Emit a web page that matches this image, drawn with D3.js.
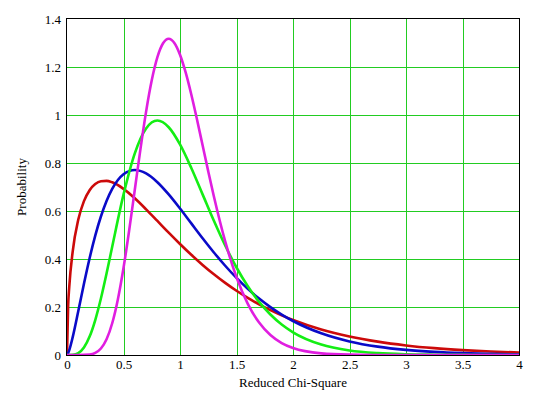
<!DOCTYPE html>
<html>
<head>
<meta charset="utf-8">
<script src="https://cdnjs.cloudflare.com/ajax/libs/d3/7.8.5/d3.min.js"></script>
<style>
  body { margin: 0; background: #fff; }
</style>
</head>
<body>
<div id="chart"></div>
<script>
// sample points along the reduced chi-square axis
var xs = [0, 0.01, 0.02, 0.05, 0.1, 0.15, 0.2, 0.25, 0.3, 0.35, 0.4, 0.5, 0.6, 0.7, 0.8, 0.9, 1.0,
          1.1, 1.2, 1.3, 1.4, 1.5, 1.6, 1.7, 1.8, 1.9, 2.0, 2.25, 2.5, 2.75, 3.0, 3.25, 3.5, 3.75, 4.0];

var redVals = [0, 0.2042, 0.2845, 0.4300, 0.5642, 0.6411, 0.6868, 0.7124, 0.7240, 0.7255, 0.7195,
               0.6924, 0.6529, 0.6069, 0.5585, 0.5098, 0.4626, 0.4175, 0.3754, 0.3363, 0.3004,
               0.2676, 0.2379, 0.2110, 0.1869, 0.1653, 0.1460, 0.1064, 0.0771, 0.0556, 0.0399,
               0.0285, 0.0204, 0.0145, 0.0103];

var blueVals = [0, 0.0073, 0.0200, 0.0733, 0.1831, 0.2968, 0.4033, 0.4974, 0.5770, 0.6416, 0.6918,
                0.7530, 0.7709, 0.7565, 0.7199, 0.6690, 0.6102, 0.5483, 0.4865, 0.4272, 0.3719,
                0.3212, 0.2756, 0.2350, 0.1994, 0.1684, 0.1417, 0.0905, 0.0567, 0.0350, 0.0214,
                0.0129, 0.0077, 0.0046, 0.0027];

var greenVals = [0, 0, 0, 0.0006, 0.0079, 0.0311, 0.0766, 0.1457, 0.2353, 0.3395, 0.4511,
                 0.6680, 0.8402, 0.9440, 0.9768, 0.9490, 0.8773, 0.7791, 0.6693, 0.5591, 0.4561,
                 0.3646, 0.2863, 0.2213, 0.1687, 0.1270, 0.0946, 0.0434, 0.0190, 0.0080, 0.0032,
                 0.0013, 0.0005, 0.0002, 0.0001];

// the narrow magenta peak gets its own, finer sampling
var xsMag = [0, 0.1, 0.2, 0.25, 0.3, 0.35, 0.4, 0.45, 0.5, 0.55, 0.6, 0.65, 0.7, 0.75, 0.8, 0.85,
             0.9, 0.95, 1.0, 1.05, 1.1, 1.15, 1.2, 1.25, 1.3, 1.4, 1.5, 1.6, 1.7, 1.8, 1.9, 2.0,
             2.25, 2.5, 2.75, 3.0, 3.5, 4.0];

var magentaVals = [0, 0, 0.0019, 0.0086, 0.0270, 0.0656, 0.1323, 0.2316, 0.3626, 0.5186, 0.6884,
                   0.8581, 1.0141, 1.1444, 1.2408, 1.2987, 1.3176, 1.3000, 1.2511, 1.1772, 1.0853,
                   0.9820, 0.8736, 0.7652, 0.6605, 0.4734, 0.3241, 0.2131, 0.1353, 0.0833, 0.0498,
                   0.0291, 0.0069, 0.0015, 0.0003, 0, 0, 0];

var xTicks = [0, 0.5, 1, 1.5, 2, 2.5, 3, 3.5, 4];
var yTicks = [0, 0.2, 0.4, 0.6, 0.8, 1, 1.2, 1.4];

var width = 545,
    height = 399,
    margin = {top: 19, right: 26, bottom: 44, left: 67},
    font = "'Liberation Serif', 'Times New Roman', serif",
    gridColor = "#22cc22";

var svg = d3.select("#chart").append("svg")
    .attr("width", width)
    .attr("height", height);

var x = d3.scaleLinear().domain([0, 4]).range([margin.left, width - margin.right]);
var y = d3.scaleLinear().domain([0, 1.4]).range([height - margin.bottom, margin.top]);

// grid, drawn as 1px rects so no line gets smeared
var grid = svg.append("g").attr("fill", gridColor).attr("shape-rendering", "crispEdges");

grid.selectAll(".vx").data(xTicks.slice(1, -1))
    .enter().append("rect")
    .attr("class", "vx")
    .attr("x", function (d) { return Math.round(x(d)); })
    .attr("width", 1)
    .attr("y", y(1.4)).attr("height", y(0) - y(1.4));

grid.selectAll(".hy").data(yTicks.slice(1, -1))
    .enter().append("rect")
    .attr("class", "hy")
    .attr("y", function (d) { return Math.round(y(d)); })
    .attr("height", 1)
    .attr("x", x(0)).attr("width", x(4) - x(0));

// axes, labels only
var xAxis = svg.append("g")
    .attr("transform", "translate(0," + y(0) + ")")
    .call(d3.axisBottom(x).tickValues(xTicks).tickSize(0).tickPadding(5)
        .tickFormat(function (d) { return String(d); }));

var yAxis = svg.append("g")
    .attr("transform", "translate(" + x(0) + ",0)")
    .call(d3.axisLeft(y).tickValues(yTicks).tickSize(0).tickPadding(6)
        .tickFormat(function (d) { return String(d); }));

[xAxis, yAxis].forEach(function (ax) {
    ax.select(".domain").remove();
    ax.selectAll(".tick line").remove();
    ax.selectAll(".tick text")
        .style("font-family", font)
        .style("font-size", "13px")
        .style("fill", "#000");
});

svg.append("clipPath").attr("id", "plot")
    .append("rect")
    .attr("x", x(0)).attr("y", y(1.4))
    .attr("width", x(4) - x(0)).attr("height", y(0) - y(1.4));

var line = d3.line()
    .x(function (d) { return x(d[0]); })
    .y(function (d) { return y(d[1]); })
    .curve(d3.curveMonotoneX);

var series = [
    {xs: xs, vals: redVals, color: "#cc0a0a"},
    {xs: xs, vals: blueVals, color: "#0a0ac8"},
    {xs: xs, vals: greenVals, color: "#14ee14"},
    {xs: xsMag, vals: magentaVals, color: "#e01ee0"}
];

svg.append("g").attr("clip-path", "url(#plot)")
    .selectAll("path").data(series)
    .enter().append("path")
    .attr("d", function (s) { return line(d3.zip(s.xs, s.vals)); })
    .attr("fill", "none")
    .attr("stroke", function (s) { return s.color; })
    .attr("stroke-width", 2.6)
    .attr("stroke-linejoin", "round");

// frame
svg.append("rect")
    .attr("x", x(0) - 0.5).attr("y", y(1.4) - 0.5)
    .attr("width", x(4) - x(0) + 1).attr("height", y(0) - y(1.4) + 1)
    .attr("fill", "none").attr("stroke", "#000").attr("stroke-width", 1);

svg.append("text")
    .attr("x", (x(0) + x(4)) / 2)
    .attr("y", 387)
    .attr("text-anchor", "middle")
    .style("font-family", font).style("font-size", "13px")
    .text("Reduced Chi-Square");

svg.append("text")
    .attr("transform", "translate(26," + (y(0) + y(1.4)) / 2 + ") rotate(-90)")
    .attr("text-anchor", "middle")
    .style("font-family", font).style("font-size", "13px")
    .text("Probability");
</script>
</body>
</html>
